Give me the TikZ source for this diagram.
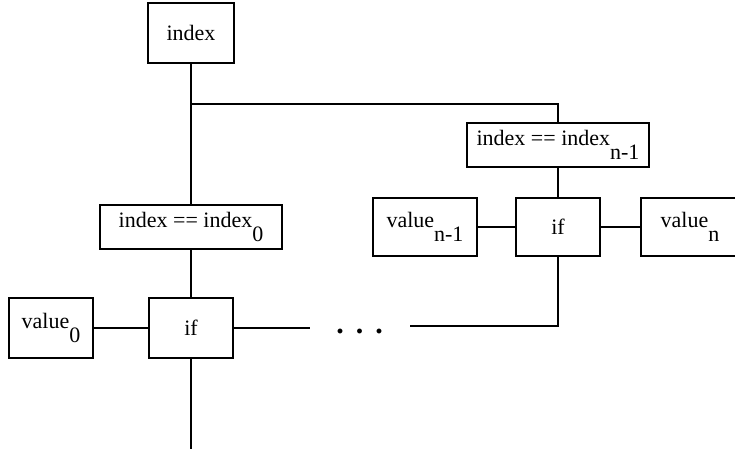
\documentclass[tikz,border=0pt]{standalone}
\usepackage{fontspec}
\setmainfont{Liberation Serif}
% subscript set at full size, dropped below the baseline
\newcommand{\lowsub}[1]{\raisebox{-14pt}{#1}}
\begin{document}
\begin{tikzpicture}[x=1pt,y=-1pt,
  line width=1.3pt,
  box/.style={draw, inner sep=0pt, font=\fontsize{22}{26}\selectfont},
  wide/.style={box, minimum width=182, minimum height=44},
  cell/.style={box, minimum width=84, minimum height=60},
  pair/.style={box, minimum height=58}]
\useasboundingbox (0,0) rectangle (735,448);
\clip (0,0) rectangle (735,448);

% left branch
\node[box, minimum width=86, minimum height=60] (idx) at (191,33) {index};
\node[wide] (eq0) at (191,227) {index == index\lowsub{0}};
\node[cell] (if0) at (191,328) {if};
\node[cell] (v0) at (51,328) {value\lowsub{0}};

% right branch
\node[wide] (eqn) at (558,145) {index == index\lowsub{n-1}};
\node[pair, minimum width=84] (ifn) at (558,227) {if};
\node[pair, minimum width=104] (vn1) at (425,227) {value\lowsub{n-1}};
\node[pair, minimum width=98] (vn) at (690,227) {value\lowsub{n}};

% elided middle
\node[font=\fontsize{30}{32}\selectfont\bfseries, anchor=base, inner sep=0pt] (dots) at (359.5,333)
  {.\hspace{12pt}.\hspace{12pt}.};

\coordinate (br) at (idx.south |- 0,104);
\coordinate (d1) at (310,328);
\coordinate (d2) at (410,326);
\coordinate (out) at (if0.south |- 0,450);

% connectors
\draw (idx.south) -- (eq0.north);
\draw (br) -| (eqn.north);
\draw (eq0.south) -- (if0.north);
\draw (v0.east) -- (if0.west);
\draw (if0.east) -- (d1);
\draw (d2) -| (ifn.south);
\draw (eqn.south) -- (ifn.north);
\draw (vn1.east) -- (ifn.west);
\draw (ifn.east) -- (vn.west);
\draw (if0.south) -- (out);
\end{tikzpicture}
\end{document}
